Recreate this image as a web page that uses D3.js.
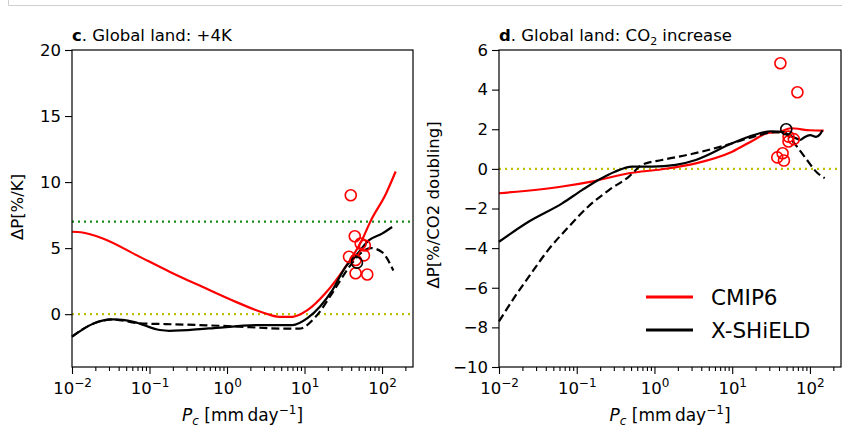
<!DOCTYPE html>
<html>
<head>
<meta charset="utf-8">
<script src="https://cdn.jsdelivr.net/npm/d3@7"></script>
<style>
  body { margin: 0; background: #fff; }
  svg text { font-family: "DejaVu Sans", sans-serif; fill: #000; }
</style>
</head>
<body>
<svg id="canvas" width="842" height="447"></svg>
<script>
// Panel c: global land, +4K  ([Pc, dP] pairs)
var cmip6Plus4K = [[0.01, 6.24], [0.013, 6.2], [0.025, 5.73], [0.068, 4.47], [0.184, 3.2],
  [0.48, 2.07], [1.3, 0.93], [3.16, 0.05], [4.7, -0.2], [7, -0.2], [10.9, 0.3],
  [18.7, 1.6], [34, 3.6], [55, 5.6], [72, 7.1], [112, 9.1], [150, 10.8]];
var shieldPlus4K = [[0.01, -1.7], [0.019, -0.7], [0.034, -0.4], [0.062, -0.58], [0.136, -1.2],
  [0.18, -1.26], [0.58, -1.08], [2.6, -0.83], [7, -0.83], [10.9, -0.3], [22.8, 1.8], [34, 3.6],
  [47, 4.5], [68, 5.6], [100, 6.1], [135, 6.6]];
var shieldDashPlus4K = [[0.01, -1.7], [0.019, -0.7], [0.034, -0.4], [0.075, -0.7], [0.16, -0.75],
  [1, -0.9], [6.3, -1.1], [8.5, -1.1], [13.9, -0.2], [22.8, 1.6], [38, 3.6], [55, 4.7],
  [72, 5.0], [100, 4.7], [140, 3.3]];
var cmip6DotsPlus4K = [[39.5, 9.0], [44.5, 5.9], [53, 5.35], [60, 5.2], [37.5, 4.35], [45.6, 4.1],
  [58.5, 4.45], [45.6, 3.1], [64.5, 3.0]];
var shieldDotsPlus4K = [[47.5, 3.9]];

// Panel d: global land, CO2 increase
var cmip6CO2 = [[0.01, -1.23], [0.065, -0.89], [0.155, -0.64], [0.47, -0.22], [1.25, -0.02],
  [3.4, 0.28], [10, 0.87], [19, 1.46], [28, 1.8], [42, 1.88], [56, 2.05], [100, 1.95], [150, 1.93]];
var shieldCO2 = [[0.01, -3.68], [0.024, -2.67], [0.065, -1.74], [0.117, -1.07], [0.19, -0.56],
  [0.31, -0.14], [0.52, 0.11], [0.94, 0.11], [1.88, 0.2], [3.4, 0.45], [10, 1.29], [19, 1.71],
  [32, 1.9], [47, 1.85], [53, 1.71], [62, 1.6], [75, 1.46], [85, 1.6], [101, 1.7], [120, 1.62],
  [135, 1.75], [145, 1.95]];
var shieldDashCO2 = [[0.01, -7.7], [0.016, -6.45], [0.026, -5.27], [0.043, -4.09], [0.079, -2.92],
  [0.14, -1.91], [0.26, -1.07], [0.47, -0.39], [0.69, 0.2], [1.25, 0.45], [3, 0.75], [10, 1.29],
  [19, 1.63], [35, 1.85], [47, 1.8], [63, 1.29], [85, 0.62], [126, -0.22], [155, -0.47]];
var cmip6DotsCO2 = [[41.7, 5.33], [69, 3.87], [38, 0.58], [44.5, 0.79], [46.3, 0.42], [53, 1.63],
  [53, 1.38], [62, 1.5]];
var shieldDotsCO2 = [[49.6, 2.0]];

var xTickExps = [-2, -1, 0, 1, 2];
var yTicksC = [0, 5, 10, 15, 20];
var yTicksD = [-10, -8, -6, -4, -2, 0, 2, 4, 6];
var legendNames = ['CMIP6', 'X-SHiELD'];

var RED = '#ff0000';
var svg = d3.select('#canvas');

// faint frame left over from the page
svg.append('path')
  .attr('d', 'M8.5,0V5.5H842')
  .attr('fill', 'none')
  .attr('stroke', '#cfcfcf')
  .attr('stroke-width', 1);

function drawPanel(opt) {
  var left = opt.left, right = opt.right, top = 50, bottom = 367;
  var x = d3.scaleLog().domain([0.01, 251]).range([left, right]);
  var y = d3.scaleLinear().domain(opt.yDomain).range([bottom, top]);
  var g = svg.append('g');

  // reference lines
  opt.hlines.forEach(function (h) {
    g.append('line')
      .attr('x1', left).attr('x2', right)
      .attr('y1', y(h.v)).attr('y2', y(h.v))
      .attr('stroke', h.color)
      .attr('stroke-width', 2.2)
      .attr('stroke-dasharray', '2,4');
  });

  var line = d3.line()
    .x(function (d) { return x(d[0]); })
    .y(function (d) { return y(d[1]); })
    .curve(d3.curveMonotoneX);

  function addLine(data, color, dash) {
    g.append('path')
      .datum(data)
      .attr('d', line)
      .attr('fill', 'none')
      .attr('stroke', color)
      .attr('stroke-width', 2.2)
      .attr('stroke-dasharray', dash || null);
  }
  addLine(opt.red, RED);
  addLine(opt.blackDash, '#000', '8,4');
  addLine(opt.black, '#000');

  function addDots(data, color) {
    g.selectAll(null)
      .data(data)
      .enter()
      .append('circle')
      .attr('cx', function (d) { return x(d[0]); })
      .attr('cy', function (d) { return y(d[1]); })
      .attr('r', 5.5)
      .attr('fill', 'none')
      .attr('stroke', color)
      .attr('stroke-width', 1.6);
  }
  addDots(opt.redDots, RED);
  addDots(opt.blackDots, '#000');

  // frame
  g.append('rect')
    .attr('x', left).attr('y', top)
    .attr('width', right - left).attr('height', bottom - top)
    .attr('fill', 'none')
    .attr('stroke', '#000')
    .attr('stroke-width', 1.2);

  // x axis: major ticks with 10^n labels, minor ticks
  var majors = xTickExps.map(function (e) { return Math.pow(10, e); });
  var minors = [];
  xTickExps.forEach(function (e) {
    for (var k = 2; k <= 9; k++) {
      var v = k * Math.pow(10, e);
      if (v <= 251) minors.push(v);
    }
  });
  var xMinor = g.append('g')
    .attr('transform', 'translate(0,' + bottom + ')')
    .call(d3.axisBottom(x).tickValues(minors).tickSize(4).tickFormat(''));
  var xMajor = g.append('g')
    .attr('transform', 'translate(0,' + bottom + ')')
    .call(d3.axisBottom(x).tickValues(majors).tickSize(7).tickPadding(4).tickFormat(''));
  [xMinor, xMajor].forEach(function (a) {
    a.select('.domain').remove();
    a.selectAll('line').attr('stroke-width', 1.1);
  });
  xMajor.selectAll('.tick').each(function (d, i) {
    var t = d3.select(this).select('text')
      .attr('font-size', 16.5)
      .attr('dy', null)
      .attr('y', 27);
    t.append('tspan').text('10');
    var e = xTickExps[i];
    t.append('tspan')
      .attr('font-size', 12)
      .attr('dy', -7)
      .text(e < 0 ? '\u2212' + (-e) : String(e));
  });

  // y axis
  var yAxis = g.append('g')
    .attr('transform', 'translate(' + left + ',0)')
    .call(d3.axisLeft(y).tickValues(opt.yTicks).tickSize(7).tickPadding(4)
      .tickFormat(function (d) { return d < 0 ? '\u2212' + (-d) : d; }));
  yAxis.select('.domain').remove();
  yAxis.selectAll('line').attr('stroke-width', 1.1);
  yAxis.selectAll('text').attr('font-size', 16.5);

  // title
  var title = g.append('text')
    .attr('x', left)
    .attr('y', 41)
    .attr('font-size', 16.5);
  title.append('tspan').attr('font-weight', 'bold').text(opt.letter);
  opt.title.forEach(function (p) {
    var s = title.append('tspan').text(p.t);
    if (p.sub) s.attr('font-size', 11).attr('dy', 4);
    if (p.after) s.attr('dy', -4);
  });

  // axis labels
  var xl = g.append('text')
    .attr('x', (left + right) / 2)
    .attr('y', 421)
    .attr('text-anchor', 'middle')
    .attr('font-size', 17);
  xl.append('tspan').attr('font-style', 'italic').text('P');
  xl.append('tspan').attr('font-style', 'italic').attr('font-size', 12).attr('dy', 4).text('c');
  xl.append('tspan').attr('dy', -4).text(' [mm\u2009day');
  xl.append('tspan').attr('font-size', 12).attr('dy', -7).text('\u22121');
  xl.append('tspan').attr('dy', 7).text(']');

  g.append('text')
    .attr('transform', 'translate(' + opt.yLabelX + ',' + opt.yLabelY + ') rotate(-90)')
    .attr('text-anchor', 'middle')
    .attr('font-size', 16.5)
    .text(opt.yLabel);

  return { x: x, y: y, g: g };
}

drawPanel({
  left: 72, right: 413, yDomain: [-4, 20], yTicks: yTicksC,
  hlines: [{ v: 7, color: '#1a8c1a' }, { v: 0, color: '#bfbf00' }],
  red: cmip6Plus4K, black: shieldPlus4K, blackDash: shieldDashPlus4K,
  redDots: cmip6DotsPlus4K, blackDots: shieldDotsPlus4K,
  letter: 'c', title: [{ t: '. Global land: +4K' }],
  yLabel: '\u0394P[%/K]', yLabelX: 23, yLabelY: 207
});

var pd = drawPanel({
  left: 499, right: 841, yDomain: [-10, 6], yTicks: yTicksD,
  hlines: [{ v: 0, color: '#bfbf00' }],
  red: cmip6CO2, black: shieldCO2, blackDash: shieldDashCO2,
  redDots: cmip6DotsCO2, blackDots: shieldDotsCO2,
  letter: 'd', title: [{ t: '. Global land: CO' }, { t: '2', sub: true }, { t: ' increase', after: true }],
  yLabel: '\u0394P[%/CO2 doubling]', yLabelX: 439, yLabelY: 205
});

// legend (panel d)
var legend = pd.g.selectAll('.legend-item')
  .data(legendNames)
  .enter()
  .append('g')
  .attr('class', 'legend-item')
  .attr('transform', function (d, i) { return 'translate(646,' + (297 + i * 33) + ')'; });
legend.append('line')
  .attr('x1', 0).attr('x2', 47)
  .attr('stroke', function (d, i) { return i === 0 ? RED : '#000'; })
  .attr('stroke-width', 3.2);
legend.append('text')
  .attr('x', 65)
  .attr('y', 8)
  .attr('font-size', 21.5)
  .text(function (d) { return d; });
</script>
</body>
</html>
